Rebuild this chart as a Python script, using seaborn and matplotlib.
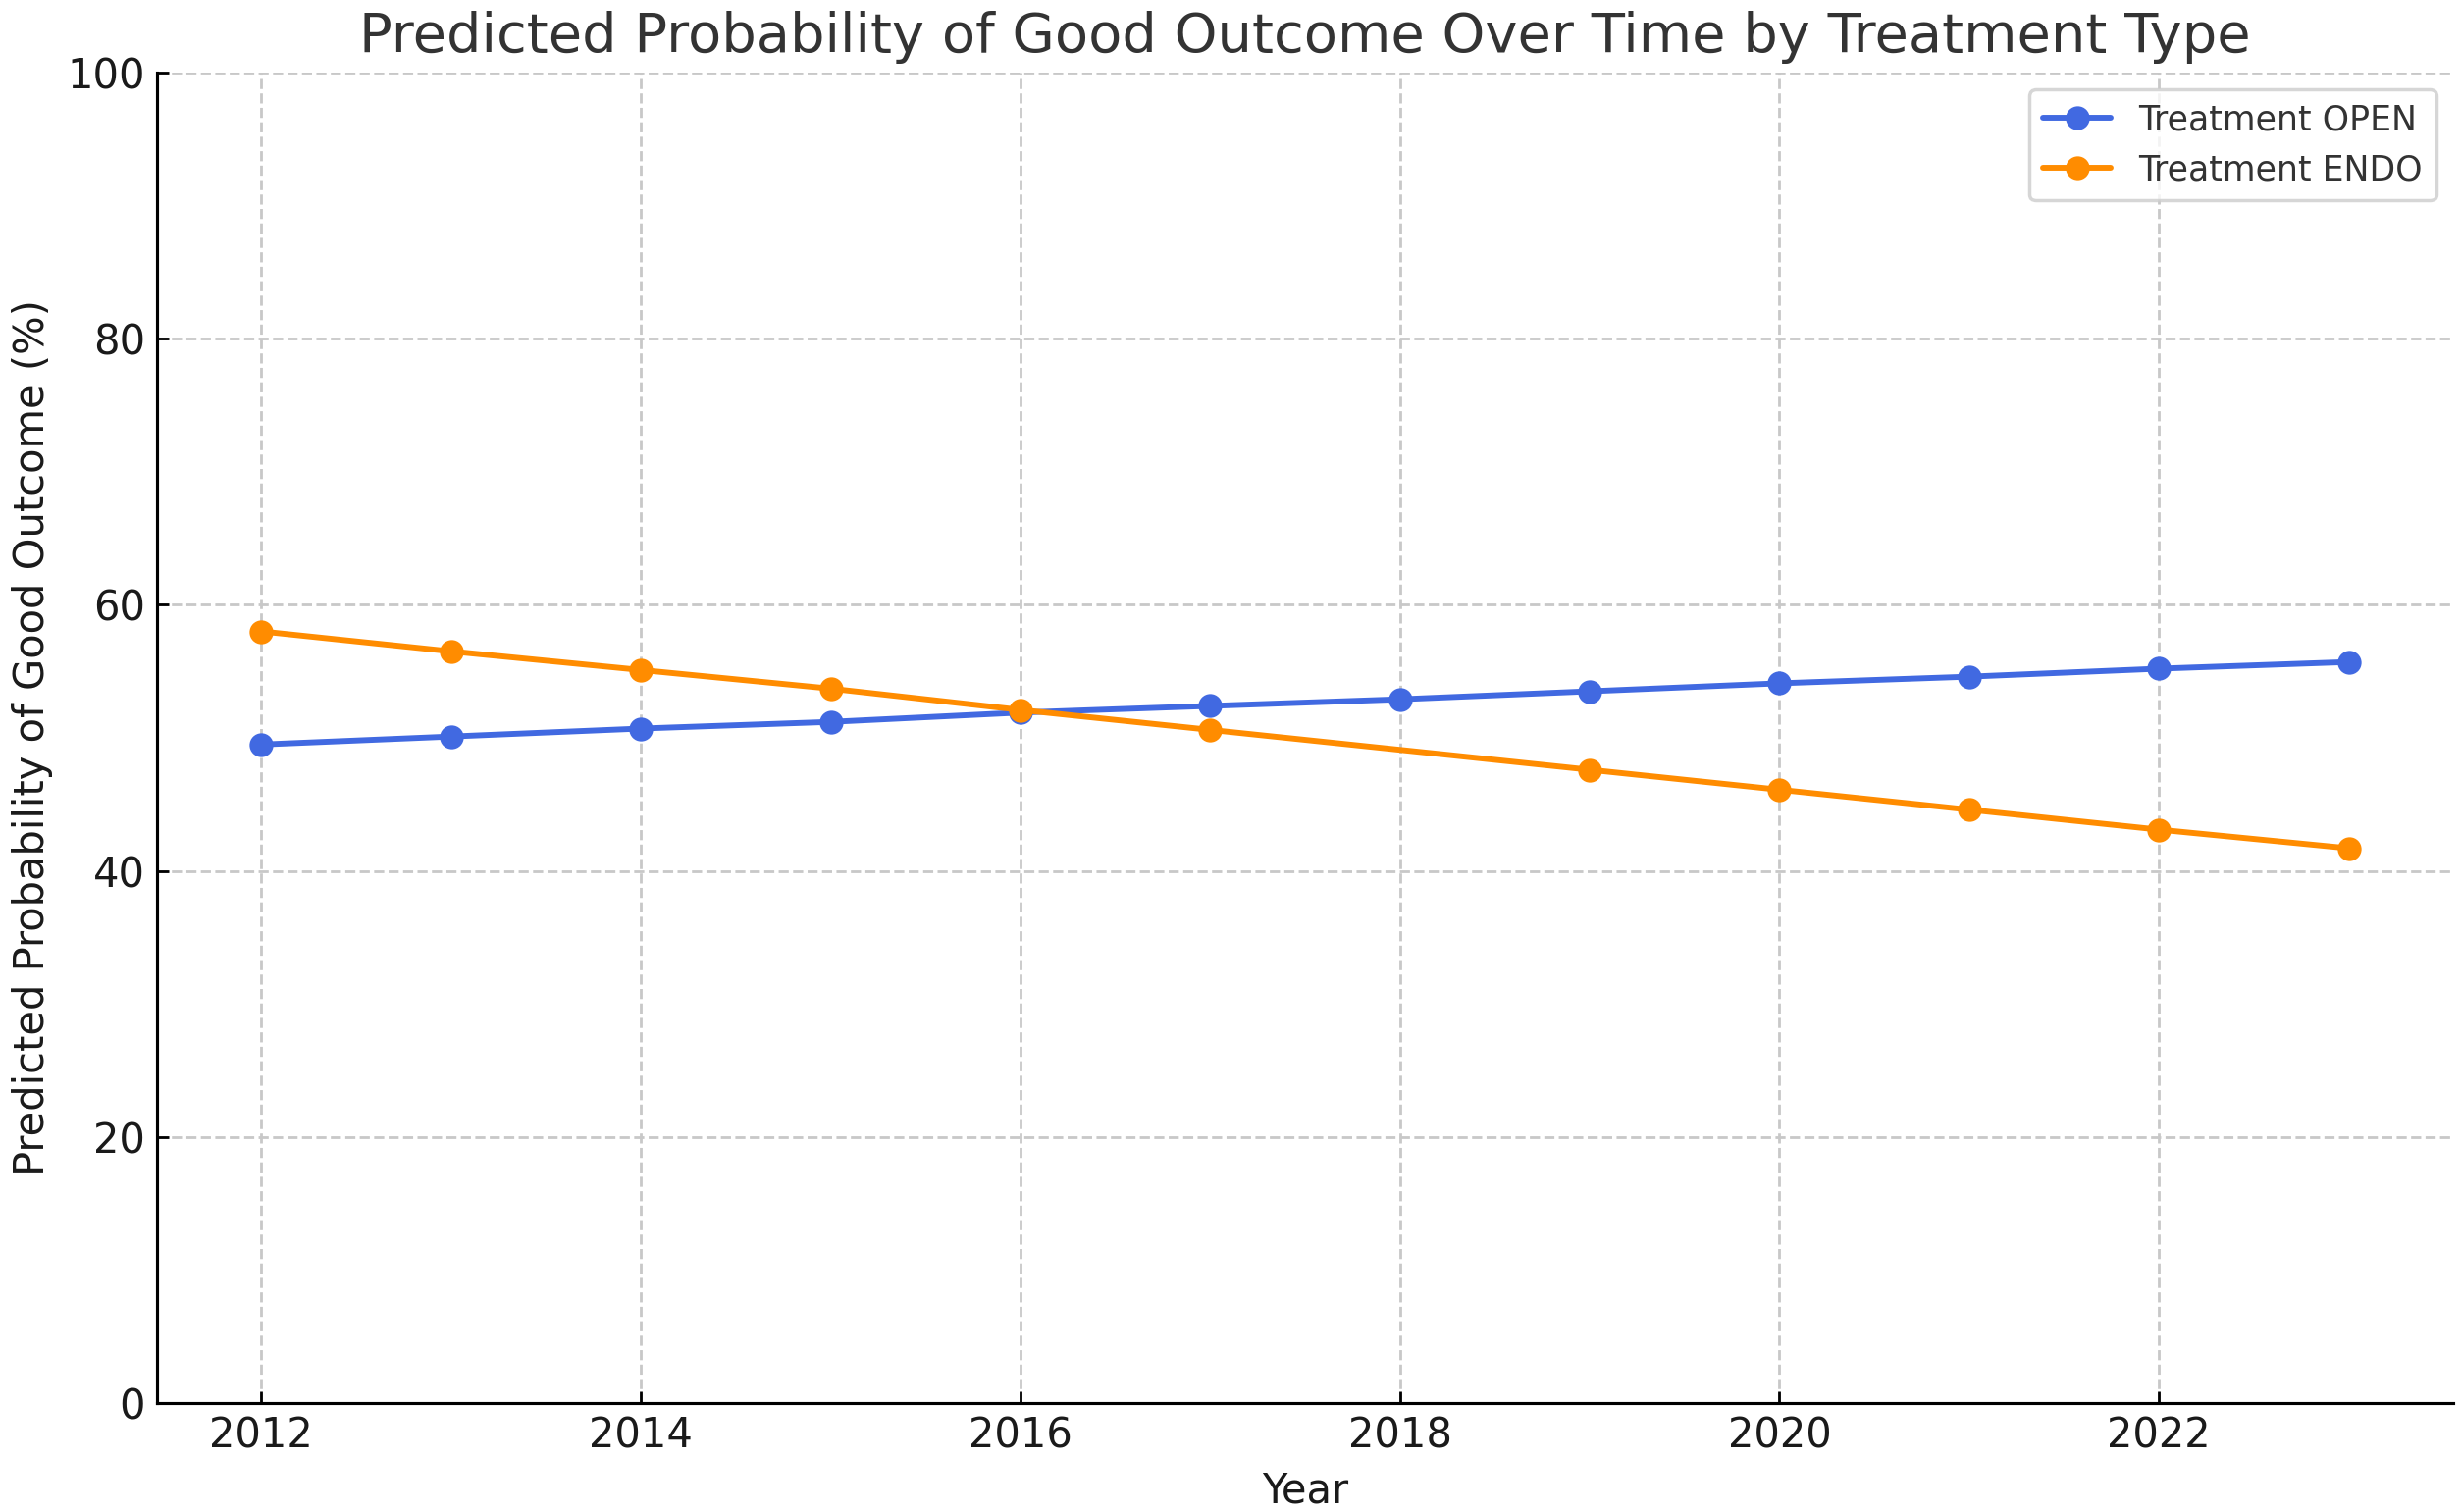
import matplotlib
matplotlib.use("Agg")
import matplotlib.pyplot as plt
import seaborn as sns
import pandas as pd

open_years = [2012, 2013, 2014, 2015, 2016, 2017, 2018, 2019, 2020, 2021, 2022, 2023]
open_vals = [49.5, 50.1, 50.7, 51.2, 51.9, 52.4, 52.9, 53.5, 54.1, 54.6, 55.2, 55.7]
endo_years = [2012, 2013, 2014, 2015, 2016, 2017, 2019, 2020, 2021, 2022, 2023]
endo_vals = [58.0, 56.5, 55.1, 53.7, 52.1, 50.6, 47.6, 46.1, 44.6, 43.1, 41.7]
series_labels = ["Treatment OPEN", "Treatment ENDO"]
series_colors = ["#4169E1", "#FF8C00"]
y_ticks = [0, 20, 40, 60, 80, 100]
x_ticks = [2012, 2014, 2016, 2018, 2020, 2022]

sns.set_theme(style="white")
plt.rcParams["font.family"] = ["DejaVu Sans"]
plt.rcParams["xtick.direction"] = "in"
plt.rcParams["ytick.direction"] = "in"

df_open = pd.DataFrame({"Year": open_years, "Prob": open_vals})
df_endo = pd.DataFrame({"Year": endo_years, "Prob": endo_vals})

fig = plt.figure(figsize=(10.032, 6.164), dpi=250)
ax = fig.add_axes([0.0638, 0.072, 0.933, 0.880])

for dfi, col, lab in [(df_open, series_colors[0], series_labels[0]),
                      (df_endo, series_colors[1], series_labels[1])]:
    sns.lineplot(data=dfi, x="Year", y="Prob", ax=ax, color=col,
                 marker="o", markersize=6, markeredgewidth=1,
                 markeredgecolor=col, linewidth=1.7, label=lab)

ax.set_ylim(0, 100)
ax.set_xlim(2011.45, 2023.55)
ax.set_xticks(x_ticks)
ax.set_yticks(y_ticks)
ax.tick_params(axis="both", which="major", labelsize=12, length=3.5, width=0.8,
               color="black", labelcolor="#1a1a1a", left=True, bottom=True)
ax.grid(True, linestyle="--", color="#c8c8c8", linewidth=0.8)
for s in ["top", "right"]:
    ax.spines[s].set_visible(False)
for s in ["left", "bottom"]:
    ax.spines[s].set_color("black")
    ax.spines[s].set_linewidth(0.9)

ax.set_title("Predicted Probability of Good Outcome Over Time by Treatment Type",
             fontsize=16.1, color="#333333")
ax.set_xlabel("Year", fontsize=12, color="#1a1a1a")
ax.set_ylabel("Predicted Probability of Good Outcome (%)", fontsize=12, color="#1a1a1a")
leg = ax.legend(loc="upper right", fontsize=10, frameon=True)
leg.get_frame().set_edgecolor("#cccccc")
for t in leg.get_texts():
    t.set_color("#333333")

fig.savefig("out.png", dpi=250)
